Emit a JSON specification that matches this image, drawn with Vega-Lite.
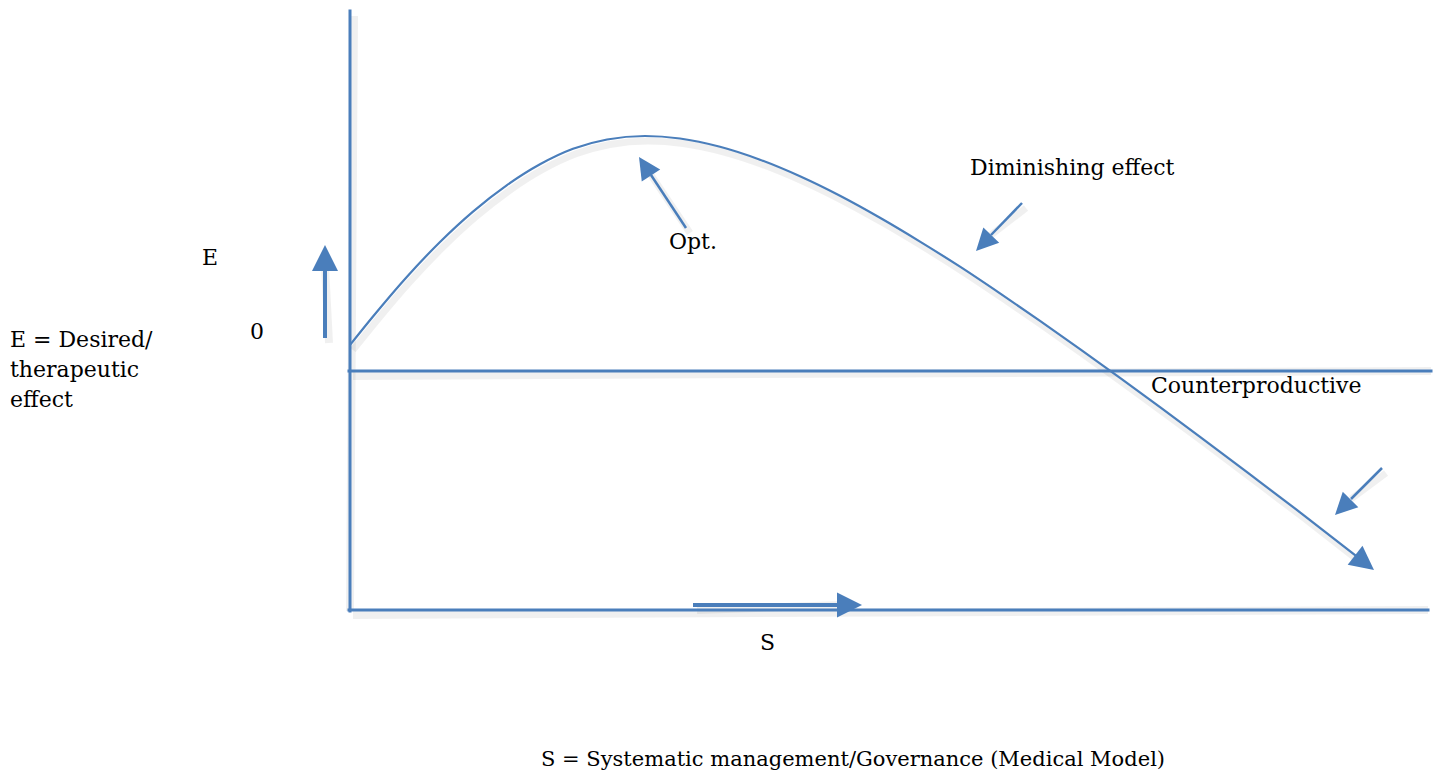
{
  "$schema": "https://vega.github.io/schema/vega-lite/v6.json",
  "width": 1439,
  "height": 773,
  "padding": 0,
  "autosize": {"type": "fit", "contains": "padding"},
  "background": "white",
  "config": {"view": {"stroke": null}},
  "datasets": {
    "curve": [
      {"s": 0, "e": 26}, {"s": 23, "e": 54.5}, {"s": 57, "e": 94.3}, {"s": 90, "e": 129},
      {"s": 123, "e": 159.4}, {"s": 157, "e": 185.9}, {"s": 190, "e": 206.7}, {"s": 223, "e": 222.2},
      {"s": 257, "e": 231.5}, {"s": 295, "e": 235}, {"s": 330, "e": 232.5}, {"s": 370, "e": 224.2},
      {"s": 410, "e": 211.3}, {"s": 450, "e": 194.7}, {"s": 490, "e": 175.2}, {"s": 530, "e": 153.2},
      {"s": 570, "e": 129.4}, {"s": 610, "e": 104.3}, {"s": 650, "e": 77.6}, {"s": 690, "e": 50.1},
      {"s": 730, "e": 21.9}, {"s": 770, "e": -6.9}, {"s": 810, "e": -36.1}, {"s": 850, "e": -65.8},
      {"s": 900, "e": -103.4}, {"s": 950, "e": -141.3}, {"s": 1008, "e": -186.5}
    ],
    "axes": [
      {"name": "vertical", "s": 0, "e": 360, "s2": 0, "e2": -240},
      {"name": "bottom", "s": -1, "e": -239, "s2": 1078, "e2": -239},
      {"name": "zero", "s": -1, "e": 0, "s2": 1081, "e2": 0}
    ],
    "thickShafts": [
      {"name": "E arrow", "s": -25, "e": 33, "s2": -25, "e2": 105},
      {"name": "S arrow", "s": 343, "e": -234, "s2": 492, "e2": -234}
    ],
    "thinShafts": [
      {"name": "Opt arrow", "s": 336, "e": 143, "s2": 301, "e2": 196},
      {"name": "Diminishing arrow", "s": 672, "e": 168, "s2": 641, "e2": 136},
      {"name": "Counterproductive arrow", "s": 1032, "e": -97, "s2": 1001, "e2": -128}
    ],
    "labels": [
      {"label": "E", "s": -148, "e": 106},
      {"label": "0", "s": -100, "e": 32},
      {"label": "E = Desired/", "s": -340, "e": 24},
      {"label": "therapeutic", "s": -340, "e": -6},
      {"label": "effect", "s": -340, "e": -36},
      {"label": "Opt.", "s": 319, "e": 122},
      {"label": "Diminishing effect", "s": 620, "e": 196},
      {"label": "Counterproductive", "s": 801, "e": -22},
      {"label": "S", "s": 410, "e": -279}
    ],
    "footer": [
      {"label": "S = Systematic management/Governance (Medical Model)", "s": 191, "e": -395}
    ]
  },
  "encoding": {
    "x": {"field": "s", "type": "quantitative", "scale": {"domain": [-350, 1089], "nice": false, "zero": false}, "axis": null},
    "y": {"field": "e", "type": "quantitative", "scale": {"domain": [-402, 371], "nice": false, "zero": false}, "axis": null}
  },
  "layer": [
    {"data": {"name": "axes"}, "mark": {"type": "rule", "color": "#000", "opacity": 0.06, "strokeWidth": 8, "xOffset": 4, "yOffset": 5},
     "encoding": {"x2": {"field": "s2"}, "y2": {"field": "e2"}}},
    {"data": {"name": "curve"}, "mark": {"type": "line", "color": "#000", "opacity": 0.06, "strokeWidth": 7, "interpolate": "monotone", "xOffset": 3, "yOffset": 5},
     "encoding": {}},
    {"data": {"name": "thickShafts"}, "mark": {"type": "rule", "color": "#000", "opacity": 0.06, "strokeWidth": 8, "xOffset": 4, "yOffset": 5},
     "encoding": {"x2": {"field": "s2"}, "y2": {"field": "e2"}}},
    {"data": {"name": "thinShafts"}, "mark": {"type": "rule", "color": "#000", "opacity": 0.06, "strokeWidth": 7, "xOffset": 4, "yOffset": 5},
     "encoding": {"x2": {"field": "s2"}, "y2": {"field": "e2"}}},
    {"data": {"name": "axes"}, "mark": {"type": "rule", "color": "#4a7ebb", "strokeWidth": 3, "strokeCap": "square"},
     "encoding": {"x2": {"field": "s2"}, "y2": {"field": "e2"}}},
    {"data": {"name": "curve"}, "mark": {"type": "line", "color": "#4a7ebb", "strokeWidth": 2.2, "interpolate": "monotone"},
     "encoding": {}},
    {"data": {"name": "thickShafts"}, "mark": {"type": "rule", "color": "#4a7ebb", "strokeWidth": 4},
     "encoding": {"x2": {"field": "s2"}, "y2": {"field": "e2"}}},
    {"data": {"name": "thinShafts"}, "mark": {"type": "rule", "color": "#4a7ebb", "strokeWidth": 2.5},
     "encoding": {"x2": {"field": "s2"}, "y2": {"field": "e2"}}},
    {"data": {"values": [{"head": "E", "s": -25, "e": 126}]},
     "mark": {"type": "point", "shape": "M0,0L-1,2L1,2Z", "filled": true, "color": "#4a7ebb", "opacity": 1, "size": 676, "angle": 0}},
    {"data": {"values": [{"head": "S", "s": 512, "e": -234}]},
     "mark": {"type": "point", "shape": "M0,0L-1,2L1,2Z", "filled": true, "color": "#4a7ebb", "opacity": 1, "size": 625, "angle": 90}},
    {"data": {"values": [{"head": "curve end", "s": 1024, "e": -199}]},
     "mark": {"type": "point", "shape": "M0,0L-1,2L1,2Z", "filled": true, "color": "#4a7ebb", "opacity": 1, "size": 576, "angle": 128}},
    {"data": {"values": [{"head": "Opt", "s": 289, "e": 214}]},
     "mark": {"type": "point", "shape": "M0,0L-1,2L1,2Z", "filled": true, "color": "#4a7ebb", "opacity": 1, "size": 484, "angle": -33}},
    {"data": {"values": [{"head": "Diminishing", "s": 626, "e": 120}]},
     "mark": {"type": "point", "shape": "M0,0L-1,2L1,2Z", "filled": true, "color": "#4a7ebb", "opacity": 1, "size": 484, "angle": -136}},
    {"data": {"values": [{"head": "Counterproductive", "s": 985, "e": -144}]},
     "mark": {"type": "point", "shape": "M0,0L-1,2L1,2Z", "filled": true, "color": "#4a7ebb", "opacity": 1, "size": 484, "angle": -135}},
    {"data": {"name": "labels"},
     "mark": {"type": "text", "align": "left", "baseline": "alphabetic", "font": "DejaVu Serif", "fontSize": 22, "color": "#000"},
     "encoding": {"text": {"field": "label"}}},
    {"data": {"name": "footer"},
     "mark": {"type": "text", "align": "left", "baseline": "alphabetic", "font": "DejaVu Serif", "fontSize": 21, "color": "#000"},
     "encoding": {"text": {"field": "label"}}}
  ]
}
